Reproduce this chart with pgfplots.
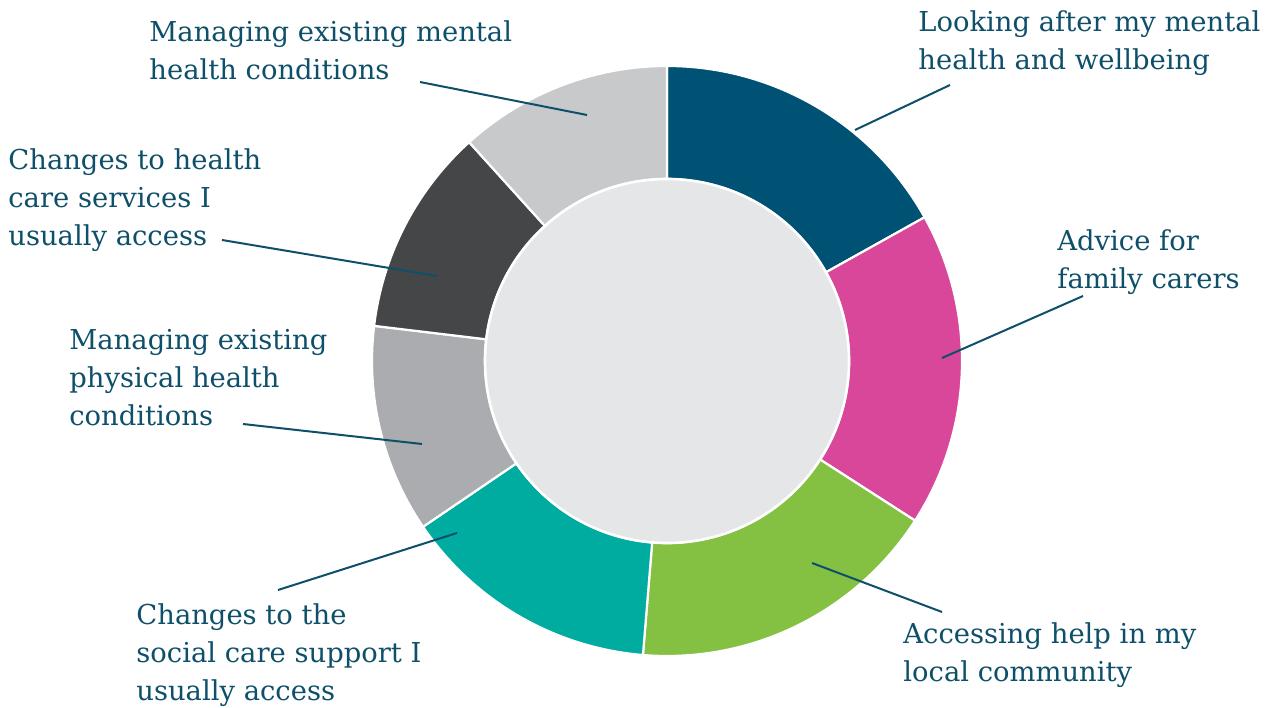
\documentclass[border=0pt]{standalone}
\usepackage{pgfplots}
\usepackage{pgfplotstable}
\pgfplotsset{compat=1.18}
\usepackage{fontspec}
\setmainfont{DejaVu Serif}
\definecolor{cblue}{HTML}{005274}
\definecolor{cpink}{HTML}{D9479A}
\definecolor{cgreen}{HTML}{84C142}
\definecolor{cteal}{HTML}{00AB9F}
\definecolor{cgrey}{HTML}{ABACAF}
\definecolor{cdark}{HTML}{454648}
\definecolor{clight}{HTML}{C8C9CB}
\definecolor{cinner}{HTML}{E5E6E8}
\definecolor{textcol}{HTML}{0E4F6A}
\pgfplotstableread{
share color
16.9 cblue
17.2 cpink
17.2 cgreen
14.2 cteal
11.4 cgrey
11.4 cdark
11.7 clight
}\data
\begin{document}
\begin{tikzpicture}
\begin{axis}[x=0.5pt,y=0.5pt,xmin=0,xmax=1267,ymin=0,ymax=707,hide axis,clip=false]
\pgfplotstablegetrowsof{\data}
\pgfmathtruncatemacro\N{\pgfplotsretval-1}
\def\cum{0}
\pgfplotsforeachungrouped \i in {0,...,\N}{%
  \pgfplotstablegetelem{\i}{share}\of\data \let\v\pgfplotsretval
  \pgfplotstablegetelem{\i}{color}\of\data \let\c\pgfplotsretval
  \pgfmathsetmacro\a{90-\cum*3.6}%
  \pgfmathsetmacro\b{90-(\cum+\v)*3.6}%
  \edef\temp{\noexpand\fill[\c, draw=white, line width=1.1pt] ([shift={(\a:147.5pt)}]axis cs:667,346) arc[start angle=\a, end angle=\b, radius=147.5pt] -- ([shift={(\b:91pt)}]axis cs:667,346) arc[start angle=\b, end angle=\a, radius=91pt] -- cycle;}%
  \temp
  \pgfmathsetmacro\cum{\cum+\v}%
}
\fill[cinner, draw=white, line width=1.3pt] (axis cs:667,346) circle[radius=91pt];
\begin{scope}[textcol, line width=1pt]
\draw (axis cs:420,625) -- (axis cs:587,592);
\draw (axis cs:950,622) -- (axis cs:855,577);
\draw (axis cs:1083,411) -- (axis cs:942,349);
\draw (axis cs:942,95) -- (axis cs:812,144);
\draw (axis cs:278,117) -- (axis cs:457,174);
\draw (axis cs:243,283) -- (axis cs:422,263);
\draw (axis cs:222,467) -- (axis cs:437,431);
\end{scope}
\begin{scope}[every node/.style={anchor=base west, inner sep=0pt, text=textcol, font=\fontsize{13.7}{19}\selectfont}]
\node at (axis cs:149,665) {Managing existing mental};
\node at (axis cs:149,627) {health conditions};
\node at (axis cs:918,675) {Looking after my mental};
\node at (axis cs:918,637) {health and wellbeing};
\node at (axis cs:8,537) {Changes to health};
\node at (axis cs:8,499) {care services I};
\node at (axis cs:8,461) {usually access};
\node at (axis cs:1057,456) {Advice for};
\node at (axis cs:1057,418) {family carers};
\node at (axis cs:69,357) {Managing existing};
\node at (axis cs:69,319) {physical health};
\node at (axis cs:69,281) {conditions};
\node at (axis cs:136,83) {Changes to the};
\node at (axis cs:136,45) {social care support I};
\node at (axis cs:136,7) {usually access};
\node at (axis cs:903,64) {Accessing help in my};
\node at (axis cs:903,26) {local community};
\end{scope}
\end{axis}
\pgfresetboundingbox
\useasboundingbox (current axis.south west) rectangle (current axis.north east);
\end{tikzpicture}
\end{document}
